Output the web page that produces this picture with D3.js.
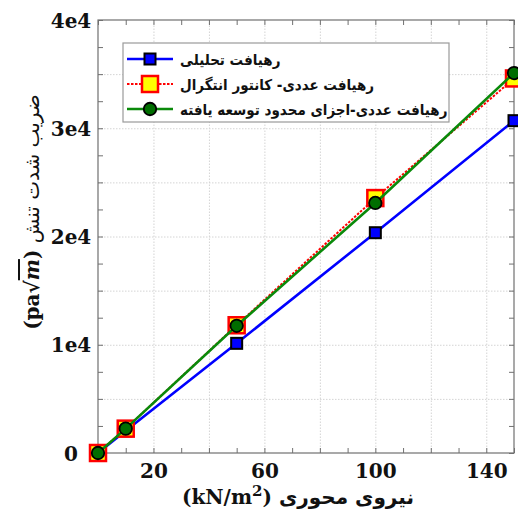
<!DOCTYPE html>
<html>
<head>
<meta charset="utf-8">
<script src="https://cdn.jsdelivr.net/npm/d3@7"></script>
<style>
  body { margin: 0; background: #fff; }
  svg { display: block; }
</style>
</head>
<body>
<svg id="chart" width="518" height="515"></svg>
<script>
// axial load (kN/m^2)
const loads = [0, 10, 50, 100, 150];
// stress intensity factor, one list per method
const analytical = [0, 2050, 10130, 20350, 30700];
const contourIntegral = [0, 2250, 11800, 23550, 34600];
const xfem = [0, 2250, 11750, 23100, 35100];

const seriesNames = [
  'رهیافت تحلیلی',
  'رهیافت عددی- کانتور انتگرال',
  'رهیافت عددی-اجزای محدود توسعه یافته'
];
const xTickValues = [20, 60, 100, 140];
const yTickValues = [0, 10000, 20000, 30000, 40000];
const yTickLabels = ['0', '1e4', '2e4', '3e4', '4e4'];

const svg = d3.select('#chart');
const plotLeft = 98;
const plotRight = 514;
const plotTop = 20;
const plotBottom = 453;
const width = plotRight - plotLeft;
const height = plotBottom - plotTop;

const x = d3.scaleLinear().domain([0, 150]).range([0, width]);
const y = d3.scaleLinear().domain([0, 40000]).range([height, 0]);

const g = svg.append('g').attr('transform', `translate(${plotLeft},${plotTop})`);

// dotted grid
g.append('g')
  .attr('transform', `translate(0,${height})`)
  .call(d3.axisBottom(x).tickValues(d3.range(20, 150, 20)).tickSize(-height).tickFormat(''))
  .call(s => s.select('.domain').remove());
g.append('g')
  .call(d3.axisLeft(y).tickValues(d3.range(5000, 40000, 5000)).tickSize(-width).tickFormat(''))
  .call(s => s.select('.domain').remove());
g.selectAll('.tick line')
  .attr('stroke', '#d4d4d4')
  .attr('stroke-width', 1)
  .attr('stroke-dasharray', '1.5,1.5');

// inward tick marks on all four sides
let tickAxes = [
  { axis: d3.axisBottom(x).tickValues(d3.range(0, 151, 10)), at: `translate(0,${height})` },
  { axis: d3.axisTop(x).tickValues(d3.range(0, 151, 10)), at: 'translate(0,0)' },
  { axis: d3.axisLeft(y).tickValues(d3.range(0, 40001, 2500)), at: 'translate(0,0)' },
  { axis: d3.axisRight(y).tickValues(d3.range(0, 40001, 2500)), at: `translate(${width},0)` }
];
tickAxes.forEach(t => {
  g.append('g')
    .attr('transform', t.at)
    .call(t.axis.tickSize(-5).tickFormat(''))
    .call(s => s.select('.domain').remove())
    .selectAll('.tick line')
    .attr('stroke', '#707070')
    .attr('stroke-width', 1);
});

g.append('rect')
  .attr('width', width)
  .attr('height', height)
  .attr('fill', 'none')
  .attr('stroke', '#707070')
  .attr('stroke-width', 1.2);

// tick labels
let xLabels = g.append('g')
  .attr('transform', `translate(0,${height})`)
  .call(d3.axisBottom(x).tickValues(xTickValues).tickSize(0))
  .call(s => s.select('.domain').remove());
xLabels.selectAll('text')
  .attr('y', 25)
  .attr('dy', 0)
  .attr('font-family', 'DejaVu Serif')
  .attr('font-weight', 'bold')
  .attr('font-size', 20)
  .attr('fill', '#111');

let yLabels = g.append('g')
  .call(d3.axisLeft(y).tickValues(yTickValues).tickSize(0).tickFormat((d, i) => yTickLabels[i]))
  .call(s => s.select('.domain').remove());
yLabels.selectAll('text')
  .attr('x', -27)
  .attr('dy', 7)
  .attr('text-anchor', 'middle')
  .attr('font-family', 'DejaVu Serif')
  .attr('font-weight', 'bold')
  .attr('font-size', 20)
  .attr('fill', '#111');

// series
const series = [
  { name: seriesNames[0], values: analytical, line: '#0000ff', dash: null, lw: 2.6, shape: 'square', size: 11, fill: '#0000ff', stroke: '#000', sw: 2 },
  { name: seriesNames[1], values: contourIntegral, line: '#ff0000', dash: '2.5,1.5', lw: 2, shape: 'square', size: 16, fill: '#ffff00', stroke: '#ff0000', sw: 2.5 },
  { name: seriesNames[2], values: xfem, line: '#0a8a0a', dash: null, lw: 2.6, shape: 'circle', size: 12.5, fill: '#006e00', stroke: '#000', sw: 1.8 }
];

const line = d3.line().x(d => x(d[0])).y(d => y(d[1]));

function drawMarker (sel, s) {
  if (s.shape === 'square') {
    sel.append('rect')
      .attr('x', -s.size / 2)
      .attr('y', -s.size / 2)
      .attr('width', s.size)
      .attr('height', s.size)
      .attr('fill', s.fill)
      .attr('stroke', s.stroke)
      .attr('stroke-width', s.sw);
  } else {
    sel.append('circle')
      .attr('r', s.size / 2)
      .attr('fill', s.fill)
      .attr('stroke', s.stroke)
      .attr('stroke-width', s.sw);
  }
}

series.forEach(s => {
  let pts = loads.map((v, i) => [v, s.values[i]]);
  g.append('path')
    .attr('d', line(pts))
    .attr('fill', 'none')
    .attr('stroke', s.line)
    .attr('stroke-width', s.lw)
    .attr('stroke-dasharray', s.dash);
  g.append('g')
    .selectAll('g')
    .data(pts)
    .join('g')
    .attr('transform', d => `translate(${x(d[0])},${y(d[1])})`)
    .each(function () { drawMarker(d3.select(this), s); });
});

// legend
let legend = svg.append('g').attr('transform', 'translate(123,43)');
legend.append('rect')
  .attr('width', 326)
  .attr('height', 79)
  .attr('fill', '#fff')
  .attr('stroke', '#9a9a9a')
  .attr('stroke-width', 1.2);
series.forEach((s, i) => {
  let row = legend.append('g').attr('transform', `translate(0,${16 + i * 25})`);
  row.append('line')
    .attr('x1', 4)
    .attr('x2', 50)
    .attr('stroke', s.line)
    .attr('stroke-width', s.lw)
    .attr('stroke-dasharray', s.dash);
  drawMarker(row.append('g').attr('transform', 'translate(27,0)'), s);
  // DejaVu's Arabic runs wider than the original font, squeeze it a bit
  row.append('text')
    .attr('transform', 'translate(57,6) scale(0.9,1)')
    .attr('font-family', 'DejaVu Sans')
    .attr('font-weight', 'bold')
    .attr('font-size', 15)
    .attr('fill', '#111')
    .text(s.name);
});

// axis titles
let xTitle = svg.append('text')
  .attr('x', 298)
  .attr('y', 504)
  .attr('text-anchor', 'middle')
  .attr('font-size', 20)
  .attr('font-weight', 'bold')
  .attr('fill', '#111');
xTitle.append('tspan').attr('font-family', 'DejaVu Serif').text('(kN/m');
xTitle.append('tspan').attr('font-family', 'DejaVu Serif').attr('font-size', 15).attr('dy', -8).text('2');
xTitle.append('tspan').attr('font-family', 'DejaVu Serif').attr('dy', 8).text(')');
xTitle.append('tspan').attr('font-family', 'DejaVu Sans').text(' نیروی محوری');

let yTitle = svg.append('text')
  .attr('transform', 'translate(39,212) rotate(-90)')
  .attr('text-anchor', 'middle')
  .attr('font-size', 20)
  .attr('fill', '#111');
yTitle.append('tspan').attr('font-family', 'DejaVu Serif').attr('font-weight', 'bold').text('(pa√');
yTitle.append('tspan').attr('font-family', 'DejaVu Serif').attr('font-style', 'italic').attr('font-weight', 'bold')
  .attr('text-decoration', 'overline').text('m');
yTitle.append('tspan').attr('font-family', 'DejaVu Serif').attr('font-weight', 'bold').text(')');
yTitle.append('tspan').attr('font-family', 'DejaVu Sans').text(' ضریب شدت تنش');
</script>
</body>
</html>
